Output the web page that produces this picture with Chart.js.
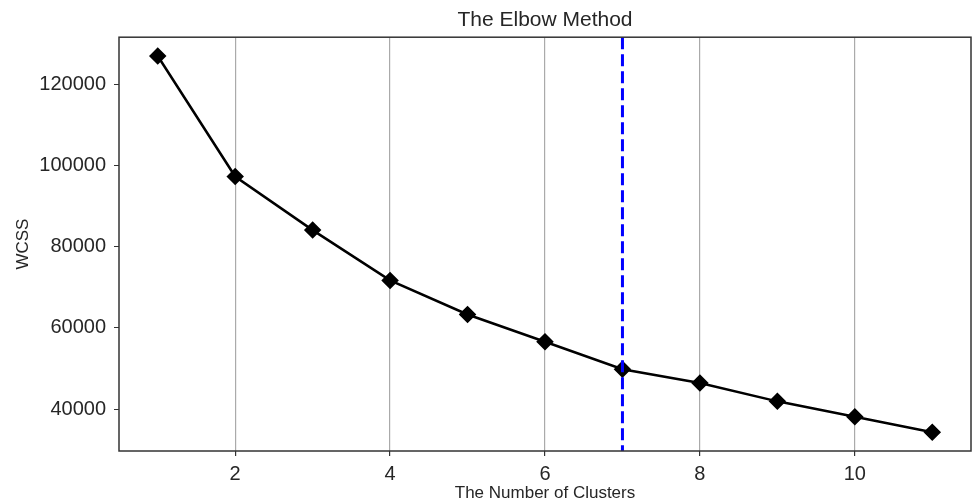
<!DOCTYPE html>
<html>
<head>
<meta charset="utf-8">
<script src="https://cdn.jsdelivr.net/npm/chart.js"></script>
<style>
  html, body { margin: 0; padding: 0; background: #fff; }
  #wrap { width: 973px; height: 502px; }
</style>
</head>
<body>
<div id="wrap"><canvas id="chart"></canvas></div>
<script>
const clusters = [1, 2, 3, 4, 5, 6, 7, 8, 9, 10, 11];
const wcss = [127000, 97300, 84100, 71700, 63300, 56600, 49800, 46400, 41900, 38100, 34300];
const xTicks = [2, 4, 6, 8, 10];
const yTicks = [40000, 60000, 80000, 100000, 120000];
const elbowK = 7;

const textColor = '#262626';
const font = 'Liberation Sans, Arial, sans-serif';

// matplotlib style 5% margins around the data
function padRange(values) {
    const lo = Math.min(...values), hi = Math.max(...values);
    const m = (hi - lo) * 0.05;
    return [lo - m, hi + m];
}
const [xMin, xMax] = padRange(clusters);
const [yMin, yMax] = padRange(wcss);

const frame = {
    id: 'frame',
    afterDatasetsDraw(chart) {
        const { ctx, chartArea: a, scales } = chart;
        const x = scales.x.getPixelForValue(elbowK);
        ctx.save();
        ctx.strokeStyle = '#0000ff';
        ctx.lineWidth = 3;
        ctx.setLineDash([12, 5]);
        ctx.beginPath();
        ctx.moveTo(x, a.top);
        ctx.lineTo(x, a.bottom);
        ctx.stroke();
        ctx.restore();
    },
    afterDraw(chart) {
        const { ctx, chartArea: a } = chart;
        ctx.save();
        ctx.strokeStyle = '#333';
        ctx.lineWidth = 1.5;
        ctx.strokeRect(a.left, a.top, a.right - a.left, a.bottom - a.top);
        ctx.restore();
    }
};

new Chart(document.getElementById('chart'), {
    type: 'line',
    data: {
        datasets: [{
            data: clusters.map((k, i) => ({ x: k, y: wcss[i] })),
            borderColor: '#000',
            backgroundColor: '#000',
            borderWidth: 2.5,
            pointStyle: 'rectRot',
            pointRadius: 7,
            pointHoverRadius: 7,
            tension: 0
        }]
    },
    options: {
        responsive: true,
        maintainAspectRatio: false,
        animation: false,
        layout: { autoPadding: false, padding: { left: 0, right: 2, top: 0, bottom: 0 } },
        plugins: {
            legend: { display: false },
            tooltip: { enabled: false },
            title: {
                display: true,
                fullSize: false,
                text: 'The Elbow Method',
                color: textColor,
                font: { family: font, size: 21, weight: 'normal' },
                padding: { top: 8, bottom: 4 }
            }
        },
        scales: {
            x: {
                type: 'linear',
                min: xMin,
                max: xMax,
                afterBuildTicks: s => { s.ticks = xTicks.map(v => ({ value: v })); },
                afterFit: s => { s.height = 51; s.paddingLeft = 0; s.paddingRight = 0; },
                grid: { color: '#aaaaaa', lineWidth: 1.2, tickColor: '#333', tickLength: 5 },
                border: { display: false },
                ticks: { color: textColor, font: { family: font, size: 20 }, padding: 6, maxRotation: 0 },
                title: {
                    display: true,
                    text: 'The Number of Clusters',
                    color: textColor,
                    font: { family: font, size: 17 },
                    padding: { top: 0, bottom: -2 }
                }
            },
            y: {
                min: yMin,
                max: yMax,
                afterBuildTicks: s => { s.ticks = yTicks.map(v => ({ value: v })); },
                afterFit: s => { s.width = 119; s.paddingTop = 0; s.paddingBottom = 0; },
                grid: { drawOnChartArea: false, tickColor: '#333', tickLength: 5 },
                border: { display: false },
                ticks: { color: textColor, font: { family: font, size: 20 }, padding: 8, callback: v => String(v) },
                title: {
                    display: true,
                    text: 'WCSS',
                    color: textColor,
                    font: { family: font, size: 17 },
                    padding: { top: 13, bottom: 0 }
                }
            }
        }
    },
    plugins: [frame]
});
</script>
</body>
</html>
